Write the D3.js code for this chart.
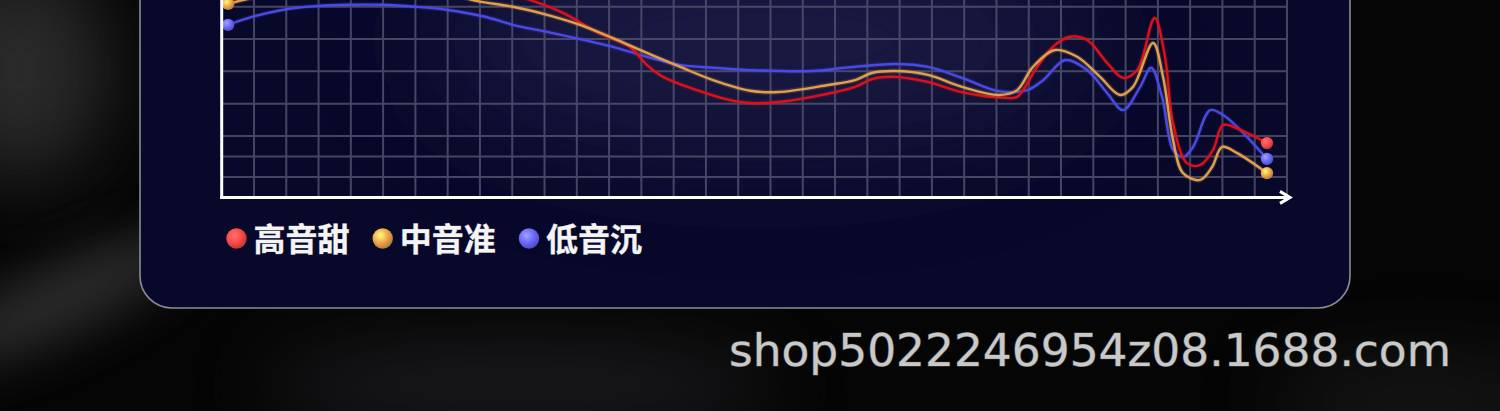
<!DOCTYPE html>
<html><head><meta charset="utf-8">
<script src="https://cdn.jsdelivr.net/npm/d3@7/dist/d3.min.js"></script>
<style>html,body{margin:0;padding:0;background:#000;overflow:hidden}</style>
</head><body>
<svg id="chart" width="1500" height="411"></svg>
<script>
// ---- data ----
const seriesNames = ["高音甜", "中音准", "低音沉"];
const seriesColors = ["#da121c", "#e0a04c", "#4a4ae4"];
const dotColors = ["#ff4a4a", "#f2a84e", "#6a6aff"];
const columnTicks = d3.range(1, 34);          // vertical grid columns
const majorRows = [0, 10, 20, 30, 40, 50];     // horizontal grid (upper band)
const minorRows = [-6.33, -12.67];             // horizontal grid (lower band)

const redX = [0.2, 2.5, 5.5, 8.0, 9.55, 10.57, 11.62, 12.64, 13.17, 13.67, 14.72, 15.75, 16.37, 17.24, 18.29, 19.62, 20.14, 20.86, 21.88, 22.93, 24.27, 24.64, 25.26, 25.75, 26.28, 26.81, 27.43, 27.92, 28.36, 28.9, 29.22, 29.47, 29.9, 30.31, 30.71, 31.02, 31.55, 32.38];
const redY = [50, 53, 53, 46.5, 42.1, 38.1, 32.2, 27.6, 22.0, 18.3, 14.2, 11.1, 10.2, 10.5, 12.1, 15.2, 17.6, 18.3, 16.7, 13.6, 11.8, 12.1, 21.4, 27.6, 30.7, 29.7, 22.6, 18.0, 20.4, 36.5, 24.5, 4.0, -8.4, -9.0, -4.3, 3.4, 1.9, -2.2];

const orangeX = [0.2, 1.2, 3.0, 5.5, 7.07, 8.0, 9.02, 10.08, 11.1, 12.12, 13.17, 14.2, 15.22, 16.37, 17.24, 18.79, 19.62, 20.14, 20.86, 21.88, 22.93, 24.1, 24.64, 25.13, 25.82, 26.5, 27.21, 27.83, 28.23, 28.85, 29.16, 29.47, 29.78, 30.31, 30.68, 30.99, 31.46, 32.38];
const orangeY = [40.9, 43.2, 45.0, 45.4, 43.7, 41.6, 40.0, 37.5, 34.4, 30.3, 25.7, 21.4, 17.3, 14.0, 13.6, 15.8, 17.3, 19.5, 20.1, 18.9, 15.2, 12.7, 14.2, 21.4, 26.6, 24.5, 18.3, 12.7, 15.2, 28.8, 18.3, -1.2, -11.5, -13.6, -9.6, -3.4, -5.3, -11.5];

const blueX = [0.2, 0.81, 1.87, 2.89, 3.91, 4.97, 5.99, 7.01, 8.16, 9.02, 10.08, 11.1, 12.12, 13.17, 14.2, 15.22, 16.37, 18.29, 19.31, 20.86, 21.88, 22.93, 24.05, 24.95, 25.45, 26.13, 26.81, 27.43, 27.92, 28.45, 28.79, 29.13, 29.47, 29.78, 30.09, 30.62, 31.02, 31.55, 32.38];
const blueY = [34.4, 36.5, 39.0, 40.2, 40.6, 40.6, 40.0, 39.0, 36.9, 34.4, 32.2, 30.0, 27.6, 24.5, 22.0, 21.1, 20.4, 20.1, 21.1, 22.3, 21.4, 18.0, 13.9, 14.2, 17.3, 23.5, 20.4, 13.3, 8.0, 15.2, 21.1, 12.1, -4.3, -6.5, -3.4, 8.0, 6.5, 1.9, -7.1];

const seriesX = [redX, orangeX, blueX];
const seriesY = [redY, orangeY, blueY];
const watermark = "shop5022246954z08.1688.com";

// ---- drawing ----
const svg = d3.select("#chart");
const defs = svg.append("defs");

const blur = (id, s) => defs.append("filter").attr("id", id)
  .attr("filterUnits", "userSpaceOnUse")
  .attr("x", -400).attr("y", -400).attr("width", 2300).attr("height", 1211)
  .append("feGaussianBlur").attr("stdDeviation", s);
blur("b40", 40); blur("b25", 25); blur("b60", 60);

// sphere gradients
dotColors.forEach((c, i) => {
  const g = defs.append("radialGradient").attr("id", "sph" + i)
    .attr("cx", "38%").attr("cy", "35%").attr("r", "65%");
  g.append("stop").attr("offset", "0%").attr("stop-color", d3.color(c).brighter(1.2));
  g.append("stop").attr("offset", "55%").attr("stop-color", c);
  g.append("stop").attr("offset", "100%").attr("stop-color", d3.color(c).darker(0.8));
});

// outer background
svg.append("rect").attr("width", 1500).attr("height", 411).attr("fill", "#050505");
const bg = svg.append("g");
bg.append("ellipse").attr("cx", 20).attr("cy", 70).attr("rx", 90).attr("ry", 110)
  .attr("fill", "#4a4a4a").attr("opacity", 0.55).attr("filter", "url(#b40)");
bg.append("ellipse").attr("cx", 60).attr("cy", 300).attr("rx", 140).attr("ry", 35)
  .attr("transform", "rotate(-25,60,300)")
  .attr("fill", "#5a5a5a").attr("opacity", 0.45).attr("filter", "url(#b25)");
bg.append("ellipse").attr("cx", 520).attr("cy", 385).attr("rx", 260).attr("ry", 40)
  .attr("fill", "#4a4a55").attr("opacity", 0.35).attr("filter", "url(#b40)");
bg.append("ellipse").attr("cx", 1420).attr("cy", 400).attr("rx", 150).attr("ry", 40)
  .attr("fill", "#3a3a3a").attr("opacity", 0.35).attr("filter", "url(#b40)");

// panel
const clip = defs.append("clipPath").attr("id", "panelClip");
clip.append("rect").attr("x", 140).attr("y", -60).attr("width", 1210).attr("height", 368).attr("rx", 32);
svg.append("rect").attr("x", 140).attr("y", -60).attr("width", 1210).attr("height", 368).attr("rx", 32)
  .attr("fill", "#08082a");
const glow = svg.append("g").attr("clip-path", "url(#panelClip)");
glow.append("ellipse").attr("cx", 760).attr("cy", 40).attr("rx", 330).attr("ry", 110)
  .attr("fill", "#2a2a5a").attr("opacity", 0.5).attr("filter", "url(#b60)");
svg.append("rect").attr("x", 140).attr("y", -60).attr("width", 1210).attr("height", 368).attr("rx", 32)
  .attr("fill", "none").attr("stroke", "#8c8c98").attr("stroke-width", 1.6);

// scales
const x = d3.scaleLinear().domain([0, 33]).range([221.7, 1287]);
const y = d3.scaleLinear().domain([-19, 0]).range([197.4, 136]);

// grid
const grid = svg.append("g").attr("stroke", "#50506e").attr("stroke-width", 2).attr("opacity", 0.85);
grid.selectAll("line.v").data(columnTicks).join("line")
  .attr("x1", d => x(d)).attr("x2", d => x(d)).attr("y1", y(55)).attr("y2", y(-19));
grid.selectAll("line.h").data(majorRows.concat(minorRows)).join("line")
  .attr("x1", x(0)).attr("x2", x(33)).attr("y1", d => y(d)).attr("y2", d => y(d));

// series lines
const line = d3.line().x(d => x(d[0])).y(d => y(d[1])).curve(d3.curveCatmullRom.alpha(0.5));
const order = [2, 0, 1];
const lines = svg.append("g").attr("fill", "none").attr("stroke-linecap", "round");
order.forEach(i => {
  const pts = seriesX[i].map((v, k) => [v, seriesY[i][k]]);
  lines.append("path").attr("d", line(pts)).attr("stroke", seriesColors[i])
    .attr("stroke-width", 5).attr("opacity", 0.18);
  lines.append("path").attr("d", line(pts)).attr("stroke", seriesColors[i])
    .attr("stroke-width", 2.4);
});

// end dots
const dots = svg.append("g");
[0, 1, 2].forEach(i => {
  const xs = seriesX[i], ys = seriesY[i];
  [0, xs.length - 1].forEach(k => {
    dots.append("circle").attr("cx", x(xs[k])).attr("cy", y(ys[k])).attr("r", 6.2)
      .attr("fill", `url(#sph${i})`);
  });
});

// axes
const ax = svg.append("g").attr("stroke", "#ffffff").attr("stroke-width", 3).attr("fill", "none");
ax.append("line").attr("x1", x(0)).attr("x2", x(0)).attr("y1", y(60)).attr("y2", y(-19) + 1.5);
ax.append("line").attr("x1", x(0) - 1.5).attr("x2", x(33) + 0.5).attr("y1", y(-19)).attr("y2", y(-19));
const ay = y(-19), axr = x(33) + 3;
ax.append("path").attr("d", `M${axr - 10},${ay - 6} L${axr},${ay} L${axr - 10},${ay + 6}`)
  .attr("stroke-width", 3).attr("stroke-linejoin", "miter");

// legend
const legendX = [236.5, 382.7, 529];
const lg = svg.append("g");
seriesNames.forEach((n, i) => {
  lg.append("circle").attr("cx", legendX[i]).attr("cy", 238.5).attr("r", 10.2).attr("fill", `url(#sph${i})`);
  lg.append("text").attr("x", legendX[i] + 17).attr("y", 251)
    .attr("font-family", "'Noto Sans CJK SC'").attr("font-weight", 700).attr("font-size", 32)
    .attr("fill", "#f4f4f4").attr("stroke", "#8a8a9a").attr("stroke-width", 0.6).attr("paint-order", "stroke")
    .text(n);
});

// watermark
svg.append("text").attr("x", 729).attr("y", 366)
  .attr("font-family", "'DejaVu Sans'").attr("font-size", 45)
  .attr("fill", "#c9c9c9").attr("stroke", "#4a4a4a").attr("stroke-width", 1.2).attr("paint-order", "stroke")
  .attr("textLength", 722).attr("lengthAdjust", "spacingAndGlyphs")
  .text(watermark);
</script>
</body></html>
